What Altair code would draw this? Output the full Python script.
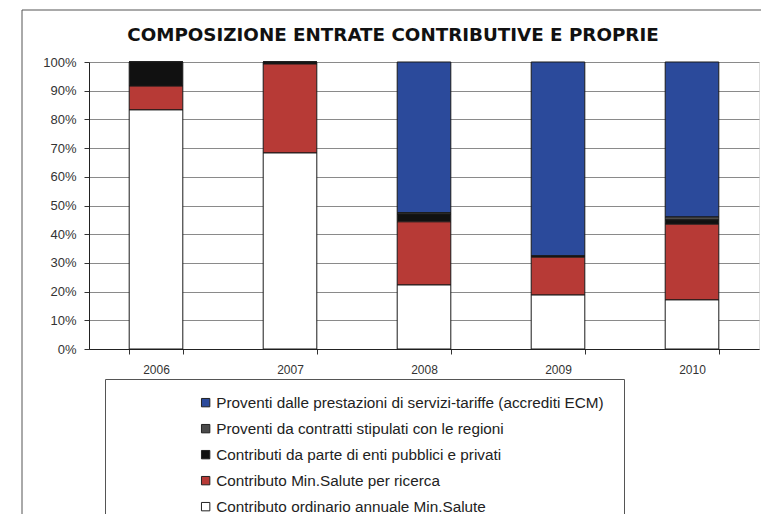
import altair as alt
import pandas as pd

years = ["2006", "2007", "2008", "2009", "2010"]
series = [
    "Proventi dalle  prestazioni di servizi-tariffe (accrediti ECM)",
    "Proventi da contratti stipulati con le regioni",
    "Contributi da parte di enti pubblici e privati",
    "Contributo Min.Salute per ricerca",
    "Contributo ordinario annuale Min.Salute",
]
colors = ["#2B4A9B", "#4A4A4A", "#111111", "#B73A36", "#FFFFFF"]
# values in % per series (same order as `series`), per year
ecm = [0.0, 0.0, 52.5, 67.6, 54.0]
regioni = [0.0, 0.0, 0.5, 0.0, 1.0]
enti = [8.4, 0.7, 2.7, 0.4, 1.5]
ricerca = [8.3, 31.0, 22.0, 13.2, 26.4]
ordinario = [83.3, 68.3, 22.3, 18.8, 17.1]
y_ticks = [0, 0.1, 0.2, 0.3, 0.4, 0.5, 0.6, 0.7, 0.8, 0.9, 1.0]

values = [ecm, regioni, enti, ricerca, ordinario]
rows = []
for si, (name, vals) in enumerate(zip(series, values)):
    for yr, v in zip(years, vals):
        rows.append({"anno": yr, "voce": name, "quota": v / 100.0, "ordine": 4 - si})
df = pd.DataFrame(rows)

bars = alt.Chart(df).mark_bar(stroke="#1a1a1a", strokeWidth=1).encode(
    x=alt.X("anno:N", sort=years, title=None,
            scale=alt.Scale(paddingInner=0.6, paddingOuter=0.3),
            axis=alt.Axis(labelAngle=0, tickBand="extent", ticks=True, tickSize=5,
                          tickColor="#333", domainColor="#222", labelPadding=10,
                          labelFontSize=12, labelFont="Liberation Sans",
                          labelColor="#333", grid=False)),
    y=alt.Y("quota:Q", stack="zero", title=None,
            scale=alt.Scale(domain=[0, 1], nice=False),
            axis=alt.Axis(values=y_ticks, format=".0%", tickSize=5, tickColor="#333",
                          domainColor="#222", gridColor="#8a8a8a", gridWidth=1,
                          labelFontSize=13, labelFont="Liberation Sans",
                          labelColor="#333", labelPadding=8)),
    color=alt.Color("voce:N", sort=series,
                    scale=alt.Scale(domain=series, range=colors),
                    legend=alt.Legend(title=None, orient="none", legendX=16, legendY=317,
                                      direction="vertical", symbolType="square",
                                      symbolSize=70, symbolStrokeColor="#222",
                                      symbolStrokeWidth=1, labelFontSize=15.3,
                                      labelFont="Liberation Sans", labelColor="#222",
                                      labelLimit=600, rowPadding=10, padding=16,
                                      strokeColor="#555", fillColor="white",
                                      symbolOffset=77, labelOffset=3)),
    order=alt.Order("ordine:Q", sort="ascending"),
)

frame = alt.Chart(pd.DataFrame({"k": [0]})).mark_rect(
    fill=None, stroke="#555", strokeWidth=1
).encode(x=alt.value(-67), x2=alt.value(900), y=alt.value(-52), y2=alt.value(700))

chart = alt.layer(frame, bars).properties(
    width=670, height=287,
    title=alt.TitleParams("COMPOSIZIONE ENTRATE CONTRIBUTIVE E PROPRIE",
                          font="DejaVu Sans", fontSize=18.3, fontWeight="bold",
                          color="#111", anchor="middle", dx=-31, offset=-36,
                          frame="group"),
    autosize=alt.AutoSizeParams(type="none"),
    padding={"left": 81, "top": 54, "right": 2, "bottom": 165},
).configure_view(stroke=None).configure(background="white")

chart.save("out.html", embed_options={"renderer": "svg", "actions": False})
